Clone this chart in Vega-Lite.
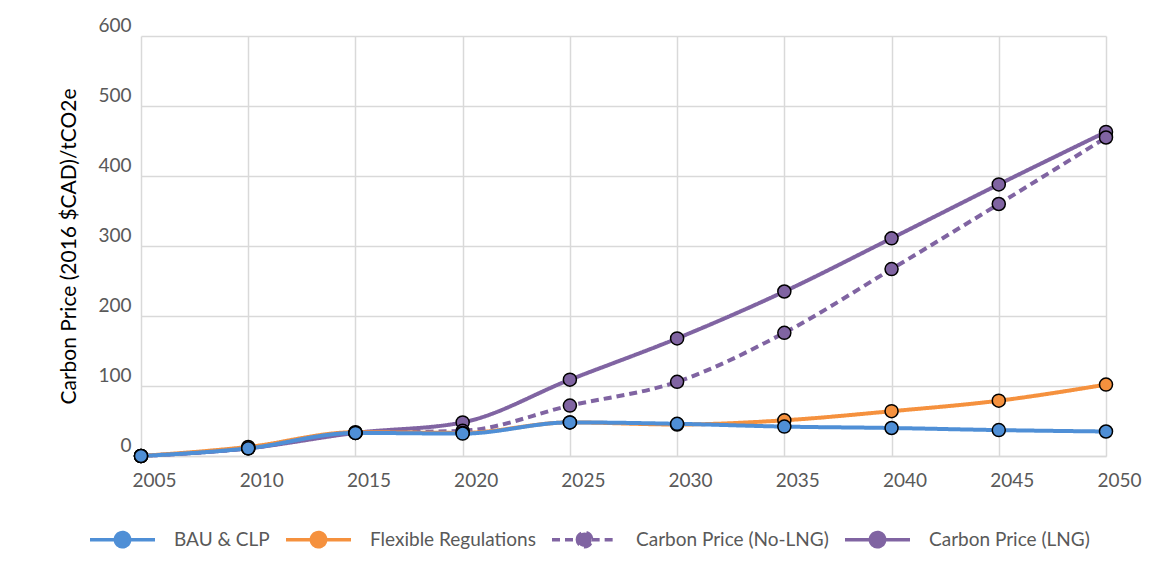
{
  "$schema": "https://vega.github.io/schema/vega-lite/v6.json",
  "width": 965,
  "height": 420,
  "autosize": {"type": "none"},
  "padding": {"left": 141, "top": 36, "right": 47, "bottom": 128},
  "background": "white",
  "config": {
    "font": "Lato",
    "view": {"stroke": null}
  },
  "data": {
    "values": [
      {"year": 2005, "series": "Carbon Price (LNG)", "value": 0},
      {"year": 2010, "series": "Carbon Price (LNG)", "value": 11},
      {"year": 2015, "series": "Carbon Price (LNG)", "value": 33},
      {"year": 2020, "series": "Carbon Price (LNG)", "value": 48},
      {"year": 2025, "series": "Carbon Price (LNG)", "value": 109},
      {"year": 2030, "series": "Carbon Price (LNG)", "value": 168},
      {"year": 2035, "series": "Carbon Price (LNG)", "value": 235},
      {"year": 2040, "series": "Carbon Price (LNG)", "value": 311},
      {"year": 2045, "series": "Carbon Price (LNG)", "value": 388},
      {"year": 2050, "series": "Carbon Price (LNG)", "value": 463},
      {"year": 2005, "series": "Carbon Price (No-LNG)", "value": 0},
      {"year": 2010, "series": "Carbon Price (No-LNG)", "value": 11},
      {"year": 2015, "series": "Carbon Price (No-LNG)", "value": 33},
      {"year": 2020, "series": "Carbon Price (No-LNG)", "value": 36},
      {"year": 2025, "series": "Carbon Price (No-LNG)", "value": 72},
      {"year": 2030, "series": "Carbon Price (No-LNG)", "value": 106},
      {"year": 2035, "series": "Carbon Price (No-LNG)", "value": 176},
      {"year": 2040, "series": "Carbon Price (No-LNG)", "value": 267},
      {"year": 2045, "series": "Carbon Price (No-LNG)", "value": 360},
      {"year": 2050, "series": "Carbon Price (No-LNG)", "value": 455},
      {"year": 2005, "series": "Flexible Regulations", "value": 0},
      {"year": 2010, "series": "Flexible Regulations", "value": 13},
      {"year": 2015, "series": "Flexible Regulations", "value": 34},
      {"year": 2020, "series": "Flexible Regulations", "value": 33},
      {"year": 2025, "series": "Flexible Regulations", "value": 48},
      {"year": 2030, "series": "Flexible Regulations", "value": 45},
      {"year": 2035, "series": "Flexible Regulations", "value": 51},
      {"year": 2040, "series": "Flexible Regulations", "value": 64},
      {"year": 2045, "series": "Flexible Regulations", "value": 79},
      {"year": 2050, "series": "Flexible Regulations", "value": 102},
      {"year": 2005, "series": "BAU & CLP", "value": 0},
      {"year": 2010, "series": "BAU & CLP", "value": 11},
      {"year": 2015, "series": "BAU & CLP", "value": 33},
      {"year": 2020, "series": "BAU & CLP", "value": 32},
      {"year": 2025, "series": "BAU & CLP", "value": 48},
      {"year": 2030, "series": "BAU & CLP", "value": 46},
      {"year": 2035, "series": "BAU & CLP", "value": 42},
      {"year": 2040, "series": "BAU & CLP", "value": 40},
      {"year": 2045, "series": "BAU & CLP", "value": 37},
      {"year": 2050, "series": "BAU & CLP", "value": 35}
    ]
  },
  "encoding": {
    "x": {
      "field": "year",
      "type": "quantitative",
      "scale": {"domain": [2005, 2050], "nice": false, "zero": false},
      "axis": {
        "title": null,
        "values": [2005, 2010, 2015, 2020, 2025, 2030, 2035, 2040, 2045, 2050],
        "format": "d",
        "ticks": false,
        "domain": true,
        "domainColor": "#d9d9d9",
        "domainWidth": 1.5,
        "grid": true,
        "gridColor": "#d9d9d9",
        "gridWidth": 1.5,
        "labelFontSize": 19,
        "labelColor": "#595959",
        "labelPadding": 15,
        "labelOffset": 13,
        "labelFlush": false
      }
    },
    "y": {
      "field": "value",
      "type": "quantitative",
      "scale": {"domain": [0, 600], "nice": false},
      "axis": {
        "title": "Carbon Price (2016 $CAD)/tCO2e",
        "titleFontSize": 21,
        "titleFontWeight": "normal",
        "titleColor": "#000000",
        "titlePadding": 18,
        "values": [0, 100, 200, 300, 400, 500, 600],
        "ticks": false,
        "domain": false,
        "grid": true,
        "gridColor": "#d9d9d9",
        "gridWidth": 1.5,
        "labelFontSize": 19,
        "labelColor": "#595959",
        "labelPadding": 10,
        "labelOffset": -11,
        "labelFlush": false
      }
    }
  },
  "layer": [
    {
      "mark": {"type": "line", "interpolate": "monotone", "strokeWidth": 4},
      "encoding": {
        "color": {
          "field": "series",
          "type": "nominal",
          "scale": {
            "domain": ["BAU & CLP", "Flexible Regulations", "Carbon Price (No-LNG)", "Carbon Price (LNG)"],
            "range": ["#4f8fd6", "#f5913e", "#8064a2", "#8064a2"]
          },
          "legend": {
            "title": null,
            "orient": "none",
            "direction": "horizontal",
            "legendX": -53,
            "legendY": 469,
            "symbolType": "M-1,0H-0.22M0.22,0H1M-0.22,0A0.22,0.22 0 1,1 0.22,0A0.22,0.22 0 1,1 -0.22,0Z",
            "symbolSize": 4225,
            "symbolStrokeWidth": 3.5,
            "labelFontSize": 19,
            "labelColor": "#595959",
            "labelOffset": 17,
            "columnPadding": 9,
            "labelLimit": 400
          }
        },
        "strokeDash": {
          "field": "series",
          "type": "nominal",
          "scale": {
            "domain": ["BAU & CLP", "Flexible Regulations", "Carbon Price (No-LNG)", "Carbon Price (LNG)"],
            "range": [[1, 0], [1, 0], [8, 5], [1, 0]]
          },
          "legend": null
        }
      }
    },
    {
      "mark": {"type": "point", "filled": true, "size": 170, "stroke": "#000000", "strokeWidth": 1.5, "opacity": 1},
      "encoding": {
        "fill": {
          "field": "series",
          "type": "nominal",
          "scale": {
            "domain": ["BAU & CLP", "Flexible Regulations", "Carbon Price (No-LNG)", "Carbon Price (LNG)"],
            "range": ["#4f8fd6", "#f5913e", "#8064a2", "#8064a2"]
          },
          "legend": null
        }
      }
    }
  ]
}
